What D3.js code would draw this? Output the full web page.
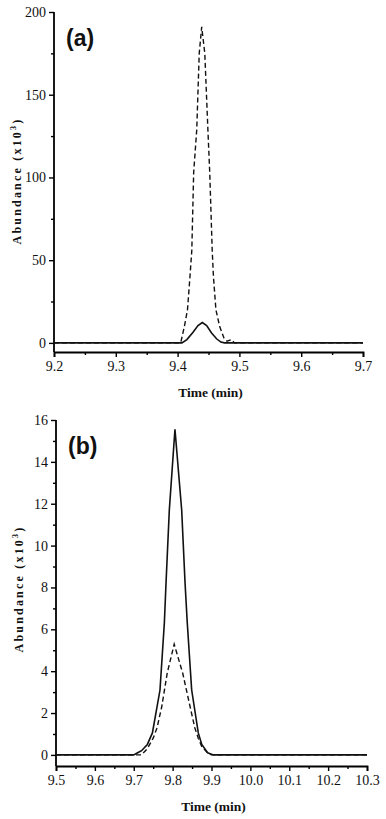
<!DOCTYPE html>
<html lang="en">
<head>
  <meta charset="UTF-8" />
  <title>Chromatogram peaks</title>
  <style>
    html, body {
      margin: 0;
      padding: 0;
      background: #fff;
    }
    svg {
      display: block;
    }
    .axis-title {
      font-family: "Liberation Serif", "Times New Roman", serif;
      font-weight: bold;
      fill: #111;
    }
    .panel-tag {
      font-family: "Liberation Sans", Arial, sans-serif;
      font-weight: bold;
      font-size: 23px;
      fill: #111;
    }
  </style>
</head>
<body>
<svg id="chart" width="386" height="819"></svg>

<script src="https://d3js.org/d3.v7.min.js"></script>
<script>
  // Panel (a): time (min) vs abundance (x10^3)
  const solidA = [
    [9.2, 0], [9.407, 0], [9.415, 2], [9.425, 6.5], [9.433, 10.5], [9.44, 12.3],
    [9.447, 10.5], [9.455, 6], [9.463, 2.5], [9.47, 0.5], [9.476, 0], [9.7, 0]
  ];
  const dashedA = [
    [9.2, 0], [9.405, 0], [9.411, 10], [9.416, 20], [9.420, 40], [9.423, 56],
    [9.426, 103], [9.431, 129], [9.435, 175], [9.439, 191], [9.444, 175],
    [9.449, 129], [9.452, 103], [9.456, 56], [9.458, 40], [9.462, 20],
    [9.468, 10], [9.475, 3], [9.48, 1], [9.487, 2], [9.492, 0], [9.7, 0]
  ];
  const xTicksA = [9.2, 9.3, 9.4, 9.5, 9.6, 9.7];
  const yTicksA = [0, 50, 100, 150, 200];

  // Panel (b)
  const solidB = [
    [9.5, 0], [9.70, 0], [9.71, 0.1], [9.72, 0.2], [9.735, 0.5], [9.748, 1.05],
    [9.7675, 3.1], [9.7787, 6.3], [9.783, 8.2], [9.7915, 11.7], [9.806, 15.56],
    [9.8233, 11.7], [9.832, 8.2], [9.8377, 6.3], [9.849, 3.1], [9.866, 1.05],
    [9.875, 0.5], [9.89, 0.1], [9.905, 0], [10.3, 0]
  ];
  const dashedB = [
    [9.5, 0], [9.72, 0], [9.735, 0.3], [9.75, 0.8], [9.76, 1.3], [9.772, 2.3],
    [9.786, 3.9], [9.804, 5.29], [9.826, 3.9], [9.845, 2.3], [9.857, 1.3],
    [9.866, 0.8], [9.875, 0.4], [9.89, 0.1], [9.9, 0], [10.3, 0]
  ];
  const xTicksB = [9.5, 9.6, 9.7, 9.8, 9.9, 10.0, 10.1, 10.2, 10.3];
  const yTicksB = [0, 2, 4, 6, 8, 10, 12, 14, 16];

  const svg = d3.select("#chart");

  function styleTicks(sel) {
    sel.selectAll("text")
      .style("font-family", "Liberation Serif, serif")
      .style("font-size", "14px")
      .style("fill", "#111");
  }

  function drawPanel(cfg) {
    const g = svg.append("g");
    const x = d3.scaleLinear().domain(cfg.xDomain).range([cfg.left, cfg.right]);
    const y = d3.scaleLinear().domain(cfg.yDomain).range([cfg.bottom, cfg.top]);

    // minor ticks (between labelled ones)
    const xMinor = d3.range(cfg.xDomain[0] + cfg.xStep / 2, cfg.xDomain[1], cfg.xStep);
    const yMinor = d3.range(cfg.yTicks[0] + cfg.yStep / 2, cfg.yTicks[cfg.yTicks.length - 1], cfg.yStep);

    g.append("g")
      .attr("transform", `translate(0,${cfg.bottom})`)
      .call(d3.axisBottom(x).tickValues(xMinor).tickSize(3).tickFormat(""))
      .call(a => a.select(".domain").remove())
      .selectAll("line").attr("stroke-width", 1.4);

    g.append("g")
      .attr("transform", `translate(${cfg.left},0)`)
      .call(d3.axisLeft(y).tickValues(yMinor).tickSize(3).tickFormat(""))
      .call(a => a.select(".domain").remove())
      .selectAll("line").attr("stroke-width", 1.4);

    const xAxis = g.append("g")
      .attr("transform", `translate(0,${cfg.bottom})`)
      .call(d3.axisBottom(x).tickValues(cfg.xTicks).tickSizeOuter(0).tickSize(5).tickPadding(4)
        .tickFormat(d3.format(".1f")));
    xAxis.select(".domain").attr("stroke-width", 1.8);
    xAxis.selectAll("line").attr("stroke-width", 1.4);
    styleTicks(xAxis);

    const yAxis = g.append("g")
      .attr("transform", `translate(${cfg.left},0)`)
      .call(d3.axisLeft(y).tickValues(cfg.yTicks).tickSizeOuter(0).tickSize(5).tickPadding(3));
    yAxis.select(".domain").attr("d", `M0,${y(cfg.yTicks[cfg.yTicks.length - 1])}V${cfg.bottom}`)
      .attr("stroke-width", 1.8);
    yAxis.selectAll("line").attr("stroke-width", 1.4);
    styleTicks(yAxis);

    const line = d3.line().x(d => x(d[0])).y(d => y(d[1]));

    g.append("path")
      .datum(cfg.dashed)
      .attr("fill", "none")
      .attr("stroke", "#111")
      .attr("stroke-width", 1.4)
      .attr("stroke-dasharray", "5,3")
      .attr("d", line);

    g.append("path")
      .datum(cfg.solid)
      .attr("fill", "none")
      .attr("stroke", "#111")
      .attr("stroke-width", 1.6)
      .attr("d", line);

    // x title
    g.append("text")
      .attr("class", "axis-title")
      .attr("x", (cfg.left + cfg.right) / 2 + 2)
      .attr("y", cfg.bottom + 45)
      .attr("text-anchor", "middle")
      .attr("font-size", 13.5)
      .text("Time (min)");

    // y title (rotated, letter spaced)
    const yt = g.append("text")
      .attr("class", "axis-title")
      .attr("transform", `translate(${cfg.left - 33},${cfg.yTitleY}) rotate(-90)`)
      .attr("text-anchor", "middle")
      .attr("font-size", 12)
      .attr("letter-spacing", 2.2);
    yt.append("tspan").text("Abundance (x10");
    yt.append("tspan").attr("font-size", 8).attr("dy", -5).text("3");
    yt.append("tspan").attr("dy", 5).text(")");

    g.append("text")
      .attr("class", "panel-tag")
      .attr("x", cfg.left + 12)
      .attr("y", cfg.top + 34)
      .text(cfg.tag);
  }

  drawPanel({
    tag: "(a)",
    solid: solidA, dashed: dashedA,
    xDomain: [9.2, 9.7], xStep: 0.1, xTicks: xTicksA,
    yDomain: [-5.5, 200], yStep: 50, yTicks: yTicksA,
    left: 54, right: 363, top: 12, bottom: 352,
    yTitleY: 181
  });

  drawPanel({
    tag: "(b)",
    solid: solidB, dashed: dashedB,
    xDomain: [9.5, 10.3], xStep: 0.1, xTicks: xTicksB,
    yDomain: [-0.53, 16], yStep: 2, yTicks: yTicksB,
    left: 56, right: 367, top: 420, bottom: 766,
    yTitleY: 589
  });
</script>
</body>
</html>
